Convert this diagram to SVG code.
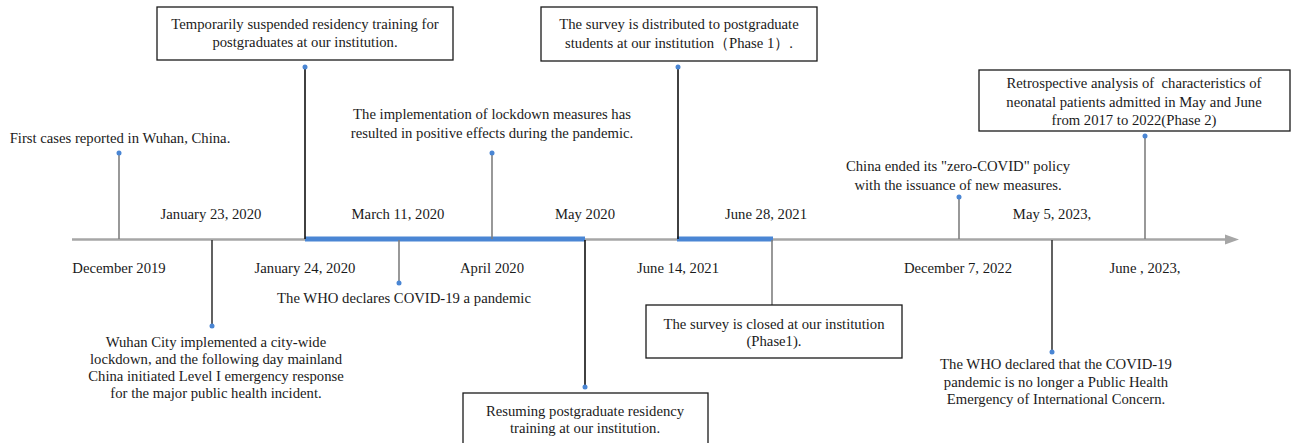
<svg xmlns="http://www.w3.org/2000/svg" width="1292" height="443" viewBox="0 0 1292 443">
<style>
text{font-family:"Liberation Serif","Times New Roman","DejaVu Serif",serif;font-size:14.7px;fill:#1a1a1a;text-anchor:middle}
.box{fill:#fff;stroke:#1a1a1a;stroke-width:1.3}
.g{stroke:#7f7f7f;stroke-width:1.6}
.d{stroke:#3a3a3a;stroke-width:1.6}
.k{stroke:#111;stroke-width:1.6}
.dot{fill:#4a86d4}
</style>
<rect width="1292" height="443" fill="#fff"/>
<g id="connectors">
<line x1="72" y1="239.5" x2="1228" y2="239.5" stroke="#a6a6a6" stroke-width="2.6"/>
<polygon points="1225,234.5 1239,239.5 1225,244.5" fill="#a6a6a6"/>
<line x1="305" y1="239" x2="585" y2="239" stroke="#4a86d4" stroke-width="5"/>
<line x1="677" y1="239" x2="773" y2="239" stroke="#4a86d4" stroke-width="5"/>
<line class="g" x1="119" y1="153" x2="119" y2="239"/>
<line class="d" x1="212" y1="240" x2="212" y2="326"/>
<line class="k" x1="305" y1="67" x2="305" y2="239"/>
<line class="g" x1="399" y1="240" x2="399" y2="283"/>
<line class="g" x1="492" y1="153" x2="492" y2="239"/>
<line class="k" x1="585" y1="240" x2="585" y2="387"/>
<line class="k" x1="678" y1="67" x2="678" y2="239"/>
<line class="g" x1="772" y1="240" x2="772" y2="309"/>
<line class="g" x1="959" y1="197" x2="959" y2="239"/>
<line class="d" x1="1052" y1="240" x2="1052" y2="352"/>
<line class="g" x1="1145" y1="136" x2="1145" y2="239"/>
<circle class="dot" cx="119" cy="153" r="2.5"/>
<circle class="dot" cx="212" cy="326" r="2.5"/>
<circle class="dot" cx="305" cy="67" r="2.5"/>
<circle class="dot" cx="399" cy="283" r="2.5"/>
<circle class="dot" cx="492" cy="153" r="2.5"/>
<circle class="dot" cx="585" cy="387" r="2.5"/>
<circle class="dot" cx="678" cy="67" r="2.5"/>
<circle class="dot" cx="772" cy="309" r="2.5"/>
<circle class="dot" cx="959" cy="197" r="2.5"/>
<circle class="dot" cx="1052" cy="352" r="2.5"/>
<circle class="dot" cx="1145" cy="136" r="2.5"/>
</g>
<g id="dates">
<text x="119" y="273">December 2019</text>
<text x="211" y="219">January 23, 2020</text>
<text x="305" y="273">January 24, 2020</text>
<text x="398" y="219">March 11, 2020</text>
<text x="492" y="273">April 2020</text>
<text x="585" y="219">May 2020</text>
<text x="678" y="273">June 14, 2021</text>
<text x="766" y="219">June 28, 2021</text>
<text x="958" y="273">December 7, 2022</text>
<text x="1052" y="219">May 5, 2023,</text>
<text x="1145" y="273">June , 2023,</text>
</g>
<g id="n-first-cases">
<text x="120" y="143">First cases reported in Wuhan, China.</text>
</g>
<g id="n-wuhan-lockdown">
<text x="216" y="347">Wuhan City implemented a city-wide</text>
<text x="216" y="364">lockdown, and the following day mainland</text>
<text x="216" y="381">China initiated Level I emergency response</text>
<text x="216" y="398">for the major public health incident.</text>
</g>
<g id="n-suspended">
<rect class="box" x="157" y="7" width="296" height="53"/>
<text x="305" y="29">Temporarily suspended residency training for</text>
<text x="305" y="47">postgraduates at our institution.</text>
</g>
<g id="n-who-pandemic">
<text x="404" y="303">The WHO declares COVID-19 a pandemic</text>
</g>
<g id="n-lockdown-effects">
<text x="492" y="119">The implementation of lockdown measures has</text>
<text x="492" y="138">resulted in positive effects during the pandemic.</text>
</g>
<g id="n-resuming">
<rect class="box" x="463" y="393" width="245" height="60"/>
<text x="585" y="416">Resuming postgraduate residency</text>
<text x="585" y="433">training at our institution.</text>
</g>
<g id="n-survey-distributed">
<rect class="box" x="541" y="7" width="276" height="54"/>
<text x="679" y="29">The survey is distributed to postgraduate</text>
<text x="679" y="48">students at our institution（Phase 1）.</text>
</g>
<g id="n-survey-closed">
<rect class="box" x="646" y="305" width="256" height="53"/>
<text x="774" y="329">The survey is closed at our institution</text>
<text x="774" y="346">(Phase1).</text>
</g>
<g id="n-zero-covid">
<text x="958" y="171">China ended its "zero-COVID" policy</text>
<text x="958" y="190">with the issuance of new measures.</text>
</g>
<g id="n-who-pheic">
<text x="1056" y="369">The WHO declared that the COVID-19</text>
<text x="1056" y="387">pandemic is no longer a Public Health</text>
<text x="1056" y="404">Emergency of International Concern.</text>
</g>
<g id="n-retrospective">
<rect class="box" x="979" y="70" width="311" height="61"/>
<text x="1134" y="88" xml:space="preserve">Retrospective analysis of  characteristics of</text>
<text x="1134" y="107">neonatal patients admitted in May and June</text>
<text x="1134" y="125">from 2017 to 2022(Phase 2)</text>
</g>
</svg>
